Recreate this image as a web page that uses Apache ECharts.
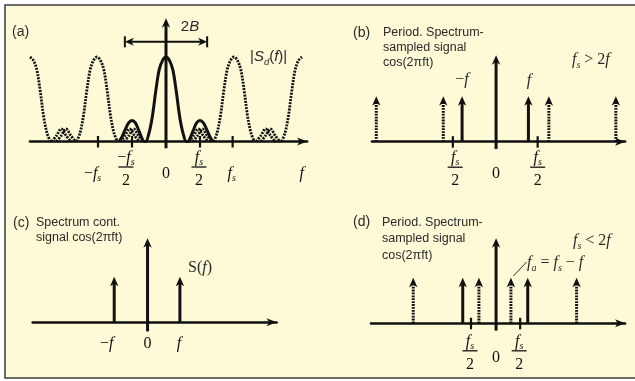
<!DOCTYPE html>
<html><head><meta charset="utf-8">
<script src="https://cdn.jsdelivr.net/npm/echarts@6.0.0/dist/echarts.min.js"></script>
<style>html,body{margin:0;padding:0;background:#fff}#c{width:635px;height:381px}</style>
</head><body><div id="c"></div>
<script>
// ===== DATA =====
// Panel (a): |Sd(f)|, f in units of fs/2, amplitude relative to main peak
const aSolidPulse = [
  [-1.38,0],[-1.3,0.05],[-1.2,0.14],[-1.1,0.22],[-1.0,0.25],[-0.9,0.22],[-0.8,0.13],[-0.7,0.03],[-0.65,0],
  [-0.6,0],[-0.5,0.1],[-0.4,0.3],[-0.3,0.6],[-0.2,0.85],[-0.1,0.96],[0,1],[0.1,0.96],[0.2,0.85],[0.3,0.6],[0.4,0.3],[0.5,0.1],[0.6,0],
  [0.65,0],[0.7,0.03],[0.8,0.13],[0.9,0.22],[1.0,0.25],[1.1,0.22],[1.2,0.14],[1.3,0.05],[1.38,0]
];
const aDotLobeM4 = [[-4.0,1],[-3.9,0.96],[-3.8,0.85],[-3.7,0.6],[-3.6,0.3],[-3.5,0.1],[-3.4,0]];
const aDotLobeM2 = [[-2.63,0],[-2.53,0.1],[-2.43,0.3],[-2.33,0.6],[-2.23,0.85],[-2.13,0.96],[-2.03,1],[-1.93,0.96],[-1.83,0.85],[-1.73,0.6],[-1.63,0.3],[-1.53,0.1],[-1.43,0]];
const aDotLobeP2 = [[1.4,0],[1.5,0.1],[1.6,0.3],[1.7,0.6],[1.8,0.85],[1.9,0.96],[2.0,1],[2.1,0.96],[2.2,0.85],[2.3,0.6],[2.4,0.3],[2.5,0.1],[2.6,0]];
const aDotLobeP4 = [[3.4,0],[3.5,0.1],[3.6,0.3],[3.7,0.6],[3.8,0.85],[3.9,0.96],[4.0,1]];
const aDotHumps = [
  [[-3.36,0],[-3.22,0.07],[-3.08,0.15],[-2.94,0.07],[-2.8,0]],
  [[-3.22,0],[-3.08,0.07],[-2.94,0.15],[-2.8,0.07],[-2.66,0]],
  [[-1.35,0],[-1.21,0.07],[-1.07,0.15],[-0.93,0.07],[-0.79,0]],
  [[-1.23,0],[-1.09,0.07],[-0.95,0.15],[-0.81,0.07],[-0.67,0]],
  [[0.67,0],[0.81,0.07],[0.95,0.15],[1.09,0.07],[1.23,0]],
  [[0.79,0],[0.93,0.07],[1.07,0.15],[1.21,0.07],[1.35,0]],
  [[2.65,0],[2.79,0.07],[2.93,0.15],[3.07,0.07],[3.21,0]],
  [[2.79,0],[2.93,0.07],[3.07,0.15],[3.21,0.07],[3.35,0]]
];
const aAxisArrow = [[0,-0.08,1.46]];
const aBandwidth = [[-1.21,1.21,1.18]];
const aTickValues = [-2,-1,1,1.96];
const aLabelValues = [-2.16,-1.18,0,0.97,1.93,3.99];
const aLabelTexts = ['−f_s','−f_s/2','0','f_s/2','f_s','f'];

// Panels (b),(c),(d): f in units of the tone frequency f, stem height relative to a single line
const bSolidStems = [[0,-0.16,1.9],[-1.03,0,1],[0.98,0,1]];
const bDottedStems = [[-3.63,0,1],[-1.6,0,1],[1.6,0,1],[3.63,0,1]];
const bTickValues = [-1.31,1.26];
const bLabelValues = [-1.24,0,1.26];
const bLabelTexts = ['f_s/2','0','f_s/2'];

const cSolidStems = [[0,-0.2,1.85],[-1.01,0,1],[0.98,0,1]];
const cLabelValues = [-1.24,0,0.95];
const cLabelTexts = ['−f','0','f'];

const dSolidStems = [[0,-0.16,1.87],[-1.01,0,1],[0.96,0,1]];
const dDottedStems = [[-2.51,0,1],[-0.52,0,1],[0.45,0,1],[2.44,0,1]];
const dTickValues = [-0.76,0.73];
const dLabelValues = [-0.79,0,0.7];
const dLabelTexts = ['f_s/2','0','f_s/2'];

// ===== STYLE / HELPERS =====
const SERIF = '"Liberation Serif","DejaVu Serif",serif';
const SANS = '"Liberation Sans",Arial,sans-serif';
const INK = '#111';
const TXT = '#2a2a2a';

const MATH = {
  i: {fontFamily: SERIF, fontStyle: 'italic', fontSize: 16, color: INK, lineHeight: 16},
  r: {fontFamily: SERIF, fontSize: 16, color: INK, lineHeight: 16},
  s: {fontFamily: SERIF, fontStyle: 'italic', fontSize: 10, color: INK, verticalAlign: 'bottom', height: 6},
  d: {fontFamily: SERIF, fontSize: 16, color: INK, lineHeight: 25},
  bar: {width: 15, height: 1.3, fontSize: 1, lineHeight: 3, backgroundColor: INK},
  gap: {fontSize: 1, lineHeight: 16}
};
const SANSMATH = {
  i: {fontFamily: SANS, fontStyle: 'italic', fontSize: 15, color: TXT},
  r: {fontFamily: SANS, fontSize: 15, color: TXT},
  s: {fontFamily: SANS, fontStyle: 'italic', fontSize: 9.5, color: TXT, verticalAlign: 'bottom', height: 5}
};

function mathLine(s) {
  let out = '';
  for (let k = 0; k < s.length; k++) {
    const ch = s[k];
    if (ch === '_') out += '{s|' + s[++k] + '}';
    else if (/[A-Za-z]/.test(ch)) out += '{i|' + ch + '}';
    else out += '{r|' + ch + '}';
  }
  return out;
}
function mathLabel(s) {
  if (s.indexOf('/') >= 0) {
    const parts = s.split('/');
    return mathLine(parts[0]) + '\n{bar| }\n' + mathLine(parts[1]).replace(/\{r\|/g, '{d|');
  }
  return '{gap| }\n' + mathLine(s);
}

function xAx(gi, min, max, values, texts, margin) {
  return {
    type: 'value', gridIndex: gi, min: min, max: max,
    axisLine: {show: true, onZero: true, symbol: ['none', 'arrow'], symbolSize: [6, 10],
      lineStyle: {color: INK, width: 2.6}},
    axisTick: {show: false}, splitLine: {show: false},
    axisLabel: {
      customValues: values, margin: margin, align: 'center',
      formatter: function (v) {
        let idx = 0, best = 1e9;
        values.forEach(function (u, k) { const dd = Math.abs(u - v); if (dd < best) { best = dd; idx = k; } });
        return mathLabel(texts[idx]);
      },
      rich: MATH
    }
  };
}
function yAx(gi, min, max) {
  return {type: 'value', gridIndex: gi, min: min, max: max,
    axisLine: {show: false}, axisTick: {show: false}, axisLabel: {show: false}, splitLine: {show: false}};
}

function arrowRenderer(dotted) {
  return function (params, api) {
    const x = api.value(0), y0 = api.value(1), y1 = api.value(2);
    const p0 = api.coord([x, y0]), p1 = api.coord([x, y1]);
    const hl = 9.5, hw = 4.2;
    const ls = {stroke: INK, lineWidth: 3, lineCap: 'butt'};
    if (dotted) ls.lineDash = [1.8, 1.1];
    return {type: 'group', children: [
      {type: 'line', shape: {x1: p0[0], y1: p0[1], x2: p1[0], y2: p1[1] + hl - 3}, style: ls},
      {type: 'polygon', shape: {points: [[p1[0], p1[1]], [p1[0] + hw, p1[1] + hl], [p1[0], p1[1] + hl * 0.72], [p1[0] - hw, p1[1] + hl]]},
        style: {fill: INK}}
    ]};
  };
}
function tickRenderer(params, api) {
  const p = api.coord([api.value(0), 0]);
  return {type: 'line', shape: {x1: p[0], y1: p[1] - 5.5, x2: p[0], y2: p[1] + 6}, style: {stroke: INK, lineWidth: 2.2}};
}
function spanRenderer(params, api) {
  const a = api.coord([api.value(0), api.value(2)]);
  const b = api.coord([api.value(1), api.value(2)]);
  const hl = 9, hw = 4;
  return {type: 'group', children: [
    {type: 'line', shape: {x1: a[0] + 4, y1: a[1], x2: b[0] - 4, y2: b[1]}, style: {stroke: INK, lineWidth: 2}},
    {type: 'polygon', shape: {points: [[a[0], a[1]], [a[0] + hl, a[1] - hw], [a[0] + hl * 0.72, a[1]], [a[0] + hl, a[1] + hw]]}, style: {fill: INK}},
    {type: 'polygon', shape: {points: [[b[0], b[1]], [b[0] - hl, b[1] - hw], [b[0] - hl * 0.72, b[1]], [b[0] - hl, b[1] + hw]]}, style: {fill: INK}},
    {type: 'line', shape: {x1: a[0], y1: a[1] - 5.5, x2: a[0], y2: a[1] + 5.5}, style: {stroke: INK, lineWidth: 2}},
    {type: 'line', shape: {x1: b[0], y1: b[1] - 5.5, x2: b[0], y2: b[1] + 5.5}, style: {stroke: INK, lineWidth: 2}}
  ]};
}
function custom(gi, data, renderItem) {
  return {type: 'custom', coordinateSystem: 'cartesian2d', xAxisIndex: gi, yAxisIndex: gi,
    data: data, renderItem: renderItem, encode: {x: 0, y: 1}, silent: true, clip: false, z: 5};
}
function curve(data, dotted) {
  return {type: 'line', xAxisIndex: 0, yAxisIndex: 0, data: data, showSymbol: false, symbol: 'none',
    smooth: 0.35, silent: true, clip: false, z: dotted ? 3 : 4,
    lineStyle: {color: INK, width: dotted ? 2.8 : 3, type: dotted ? [2, 1.2] : 'solid'}};
}
function txt(x, y, text, extra) {
  return {type: 'text', x: x, y: y, z: 100, silent: true,
    style: Object.assign({text: text, fill: TXT, fontFamily: SANS, fontSize: 12.5,
      align: 'left', verticalAlign: 'middle', textAlign: 'left', textVerticalAlign: 'middle'}, extra || {})};
}

// ===== CHART =====
const chart = echarts.init(document.getElementById('c'), null, {renderer: 'canvas'});
const series = [];
[aDotLobeM4, aDotLobeM2, aDotLobeP2, aDotLobeP4].concat(aDotHumps).forEach(function (d) { series.push(curve(d, true)); });
series.push(curve(aSolidPulse, false));
series.push(custom(0, aAxisArrow, arrowRenderer(false)));
series.push(custom(0, aTickValues.map(function (v) { return [v, 0]; }), tickRenderer));
series.push(custom(0, aBandwidth, spanRenderer));
series.push(custom(1, bSolidStems, arrowRenderer(false)));
series.push(custom(1, bDottedStems, arrowRenderer(true)));
series.push(custom(1, bTickValues.map(function (v) { return [v, 0]; }), tickRenderer));
series.push(custom(2, cSolidStems, arrowRenderer(false)));
series.push(custom(3, dSolidStems, arrowRenderer(false)));
series.push(custom(3, dDottedStems, arrowRenderer(true)));
series.push(custom(3, dTickValues.map(function (v) { return [v, 0]; }), tickRenderer));

const blockB = {fontSize: 12.5, lineHeight: 15, verticalAlign: 'top', textVerticalAlign: 'top'};
const blockD = {fontSize: 12.5, lineHeight: 16.5, verticalAlign: 'top', textVerticalAlign: 'top'};
const mathStyle = {rich: MATH};
const sansMathStyle = {rich: SANSMATH};

chart.setOption({
  animation: false,
  backgroundColor: '#ffffff',
  grid: [
    {left: 30, top: 14.75, width: 277.1, height: 126.75},
    {left: 372, top: 50.7, width: 253.1, height: 91},
    {left: 32.7, top: 231.3, width: 243.9, height: 91},
    {left: 371, top: 232.3, width: 254.1, height: 91}
  ],
  xAxis: [
    xAx(0, -4.0, 4.15, aLabelValues, aLabelTexts, 8),
    xAx(1, -3.76, 3.91, bLabelValues, bLabelTexts, 8),
    xAx(2, -3.48, 3.91, cLabelValues, cLabelTexts, -3),
    xAx(3, -3.79, 3.91, dLabelValues, dLabelTexts, 10)
  ],
  yAxis: [yAx(0, 0, 1.5), yAx(1, 0, 2.0), yAx(2, 0, 2.0), yAx(3, 0, 2.0)],
  series: series,
  graphic: {elements: [
    {type: 'rect', z: -100, silent: true, shape: {x: 5, y: 5, width: 640, height: 373},
      style: {fill: '#FEF9D7', stroke: '#3c3c3c', lineWidth: 1.5}},
    txt(12, 32, '(a)', {fontSize: 14}),
    txt(190, 27, '{r|2}{i|B}', Object.assign({align: 'center', textAlign: 'center'}, sansMathStyle)),
    txt(250, 57, '{r||}{i|S}{s|d}{r|(}{i|f}{r|)|}', sansMathStyle),
    txt(353, 33, '(b)', {fontSize: 14}),
    txt(383, 25.5, 'Period. Spectrum-\nsampled signal\ncos(2πft)', blockB),
    txt(462, 80, mathLine('−f'), Object.assign({align: 'center', textAlign: 'center'}, mathStyle)),
    txt(529, 81, mathLine('f'), Object.assign({align: 'center', textAlign: 'center'}, mathStyle)),
    txt(572, 60, mathLine('f_s > 2f'), mathStyle),
    txt(13, 223, '(c)', {fontSize: 14}),
    txt(36, 215.5, 'Spectrum cont.\nsignal cos(2πft)', blockB),
    txt(188, 268, '{r|S(}{i|f}{r|)}', mathStyle),
    txt(353, 222, '(d)', {fontSize: 14}),
    txt(382, 214, 'Period. Spectrum-\nsampled signal\ncos(2πft)', blockD),
    txt(573, 241, mathLine('f_s < 2f'), mathStyle),
    txt(527, 263, mathLine('f_a = f_s − f'), mathStyle),
    {type: 'line', z: 100, silent: true, shape: {x1: 513.5, y1: 276, x2: 526.5, y2: 262},
      style: {stroke: '#333', lineWidth: 1}}
  ]}
});
</script>
</body></html>
